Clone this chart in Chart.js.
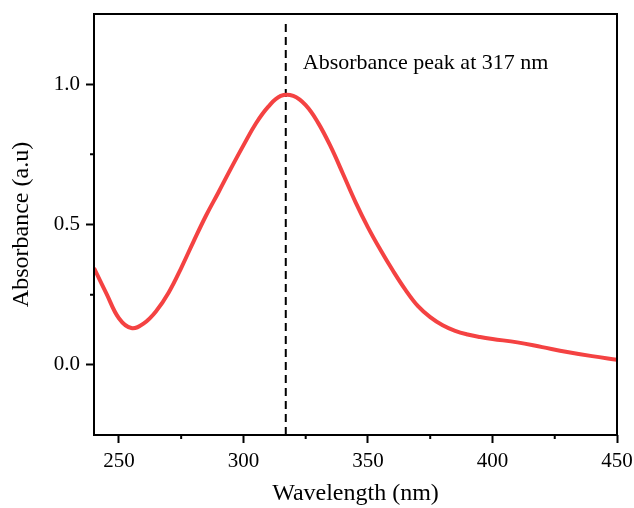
<!DOCTYPE html>
<html>
<head>
<meta charset="utf-8">
<script src="https://cdn.jsdelivr.net/npm/chart.js@4.4.1/dist/chart.umd.min.js"></script>
<style>
  html, body { margin: 0; padding: 0; background: #fff; }
  #wrap { width: 634px; height: 508px; }
</style>
</head>
<body>
<div id="wrap"><canvas id="absChart" width="634" height="508"></canvas></div>
<script>
const wavelength = [240, 245, 250, 255, 260, 265, 270, 275, 280, 285, 290, 295, 300, 305, 310, 315, 320, 325, 330, 335, 340, 345, 350, 355, 360, 365, 370, 375, 380, 385, 390, 395, 400, 410, 420, 430, 440, 450];
const absorbance = [0.345, 0.254, 0.166, 0.131, 0.148, 0.192, 0.258, 0.345, 0.440, 0.532, 0.615, 0.700, 0.782, 0.860, 0.920, 0.958, 0.958, 0.925, 0.862, 0.778, 0.680, 0.580, 0.490, 0.410, 0.336, 0.268, 0.210, 0.170, 0.141, 0.121, 0.108, 0.099, 0.092, 0.080, 0.063, 0.046, 0.031, 0.018];

const peakNm = 317;
const peakLabel = 'Absorbance peak at 317 nm';

const xMajorTicks = [250, 300, 350, 400, 450];
const xMinorTicks = [275, 325, 375, 425];
const yMajorTicks = [0, 0.5, 1.0];
const yMinorTicks = [0.25, 0.75];

const fontFamily = "'Liberation Serif', 'Times New Roman', serif";

// quitar el relleno que Chart.js reserva para las etiquetas de los extremos
function sinRelleno(scale) {
    scale.paddingTop = 0;
    scale.paddingRight = 0;
    scale.paddingLeft = 0;
    scale.paddingBottom = 0;
}

// marco, marcas menores y texto de la anotación
const framePlugin = {
    id: 'framePlugin',
    afterDraw(chart) {
        const ctx = chart.ctx;
        const area = chart.chartArea;
        const xs = chart.scales.x;
        const ys = chart.scales.y;
        ctx.save();
        ctx.strokeStyle = '#000';
        ctx.lineWidth = 2;
        ctx.strokeRect(area.left, area.top, area.right - area.left, area.bottom - area.top);

        ctx.beginPath();
        xMinorTicks.forEach(v => {
            const px = xs.getPixelForValue(v);
            ctx.moveTo(px, area.bottom);
            ctx.lineTo(px, area.bottom + 4);
        });
        yMinorTicks.forEach(v => {
            const py = ys.getPixelForValue(v);
            ctx.moveTo(area.left, py);
            ctx.lineTo(area.left - 4, py);
        });
        ctx.stroke();

        ctx.fillStyle = '#000';
        ctx.font = '22px ' + fontFamily;
        ctx.textBaseline = 'middle';
        ctx.textAlign = 'left';
        ctx.fillText(peakLabel, xs.getPixelForValue(peakNm) + 17, 63);
        ctx.restore();
    }
};

const ctx = document.getElementById('absChart').getContext('2d');
const absChart = new Chart(ctx, {
    type: 'scatter',
    data: {
        datasets: [
            {
                label: 'Absorbance',
                data: wavelength.map((w, i) => ({ x: w, y: absorbance[i] })),
                showLine: true,
                borderColor: '#f44242',
                borderWidth: 4,
                pointRadius: 0,
                tension: 0.4,
                fill: false
            },
            {
                label: 'Peak',
                data: [{ x: peakNm, y: -0.25 }, { x: peakNm, y: 1.225 }],
                showLine: true,
                borderColor: '#000',
                borderWidth: 2,
                borderDash: [8, 5],
                pointRadius: 0,
                fill: false
            }
        ]
    },
    options: {
        responsive: false,
        animation: false,
        layout: { padding: { top: 14, right: 17, left: 0, bottom: 0 } },
        plugins: {
            legend: { display: false },
            tooltip: { enabled: false }
        },
        scales: {
            x: {
                type: 'linear',
                min: 240,
                max: 450,
                afterBuildTicks: scale => { scale.ticks = xMajorTicks.map(v => ({ value: v })); },
                afterFit: scale => { scale.height = 73; sinRelleno(scale); },
                grid: { drawOnChartArea: false, drawTicks: true, tickLength: 8, tickColor: '#000', tickWidth: 2 },
                border: { display: false },
                ticks: {
                    color: '#000',
                    padding: 6,
                    maxRotation: 0,
                    font: { family: fontFamily, size: 21 }
                },
                title: {
                    display: true,
                    text: 'Wavelength (nm)',
                    color: '#000',
                    padding: { top: 6, bottom: 0 },
                    font: { family: fontFamily, size: 24 }
                }
            },
            y: {
                min: -0.25,
                max: 1.25,
                afterBuildTicks: scale => { scale.ticks = yMajorTicks.map(v => ({ value: v })); },
                afterFit: scale => { scale.width = 94; sinRelleno(scale); },
                grid: { drawOnChartArea: false, drawTicks: true, tickLength: 8, tickColor: '#000', tickWidth: 2 },
                border: { display: false },
                ticks: {
                    color: '#000',
                    padding: 6,
                    font: { family: fontFamily, size: 21 },
                    callback: v => v.toFixed(1)
                },
                title: {
                    display: true,
                    text: 'Absorbance (a.u)',
                    color: '#000',
                    padding: { top: 7, bottom: 0 },
                    font: { family: fontFamily, size: 24 }
                }
            }
        }
    },
    plugins: [framePlugin]
});
</script>
</body>
</html>
